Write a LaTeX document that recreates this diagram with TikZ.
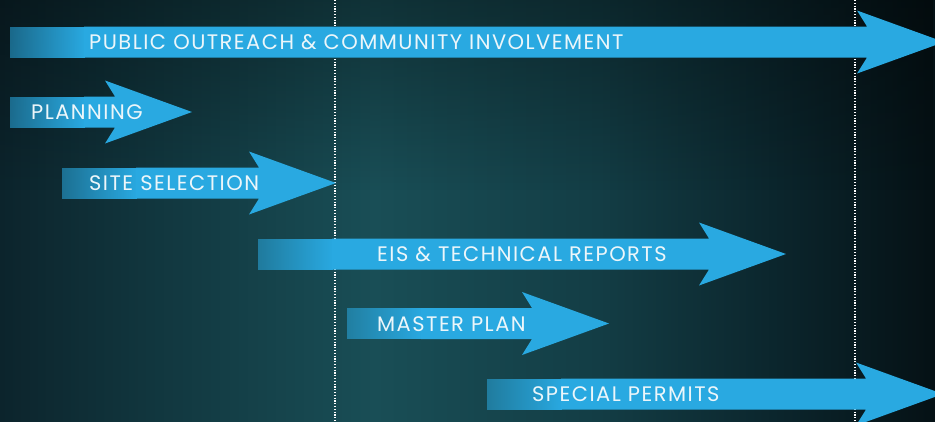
\documentclass[tikz,border=0pt]{standalone}
\usepackage{fontspec}
\setmainfont{Poppins}[LetterSpace=7.0]
\usetikzlibrary{fadings}
\definecolor{arrowBlue}{RGB}{41,169,225}
\definecolor{labelWhite}{RGB}{236,246,250}
\definecolor{bgEdge}{RGB}{12,36,44}
\definecolor{bgLeft}{RGB}{17,54,62}
\definecolor{bgMid}{RGB}{25,78,86}
\definecolor{bgRight}{RGB}{19,61,69}
\definecolor{bgDeep}{RGB}{11,37,44}
\definecolor{bgEnd}{RGB}{5,17,21}
\pgfdeclarehorizontalshading{bgGlow}{100bp}{color(0bp)=(bgEdge); color(25bp)=(bgEdge); color(33bp)=(bgLeft); color(45bp)=(bgMid); color(57bp)=(bgRight); color(66.7bp)=(bgDeep); color(75bp)=(bgEnd); color(100bp)=(bgEnd)}
\tikzfading[name=fadeShaft, left color=transparent!45, right color=transparent!0]
\tikzfading[name=fadeTop, top color=transparent!65, bottom color=transparent!100]
% #1 left end, #2 tip, #3 centre line
\newcommand{\PhaseArrow}[3]{%
  \fill[arrowBlue] ({#1+74},{#3-15.5}) -- ({#2-77},{#3-15.5}) -- ({#2-87},{#3-31.5}) -- (#2,#3)
    -- ({#2-87},{#3+31.5}) -- ({#2-77},{#3+15.5}) -- ({#1+74},{#3+15.5}) -- cycle;
  \fill[arrowBlue,path fading=fadeShaft] (#1,{#3-15.5}) rectangle ({#1+75},{#3+15.5});}

\begin{document}
\begin{tikzpicture}[x=1pt,y=-1pt,
  phaseText/.style={anchor=base west,inner sep=0pt,text=labelWhite,font=\fontsize{21}{25}\selectfont}]
\useasboundingbox (0,0) rectangle (935,421);
\shade[shading=bgGlow] (0,0) rectangle (935,421);
\fill[black,path fading=fadeTop] (0,0) rectangle (935,190);
% phase boundaries
\draw[white,line width=1.2pt,dash pattern=on 1.2pt off 1.6pt] (335,0) -- (335,421);
\draw[white,line width=1.2pt,dash pattern=on 1.2pt off 1.6pt] (855,0) -- (855,421);
% arrows
\PhaseArrow{10}{944}{42}
\PhaseArrow{10}{192}{112}
\PhaseArrow{62}{336}{183}
\PhaseArrow{258}{786}{254}
\PhaseArrow{347}{609}{323.5}
\PhaseArrow{487}{943}{394}
% labels
\node[phaseText] (outreach) at (89,49.5) {PUBLIC OUTREACH \& COMMUNITY INVOLVEMENT};
\node[phaseText] (planning) at (31,119.5) {PLANNING};
\node[phaseText] (site) at (89,190.5) {SITE SELECTION};
\node[phaseText] (eis) at (377,261.5) {EIS \& TECHNICAL REPORTS};
\node[phaseText] (master) at (377,331) {MASTER PLAN};
\node[phaseText] (permits) at (532,401.5) {SPECIAL PERMITS};
\end{tikzpicture}
\end{document}
